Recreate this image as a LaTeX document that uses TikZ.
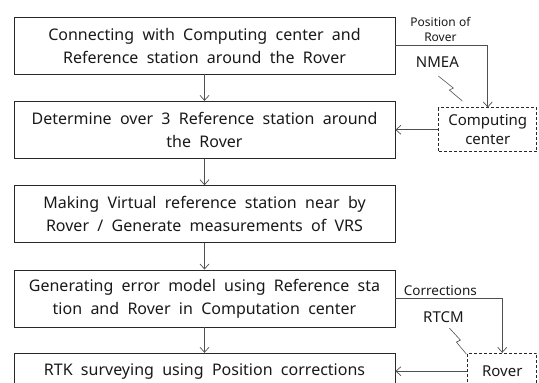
\documentclass[tikz,border=0pt]{standalone}
\usepackage{fontspec}
\setmainfont{Noto Sans}
\usepackage{tikz}
\usetikzlibrary{positioning,arrows.meta}
\definecolor{boxline}{RGB}{40,40,40}
\definecolor{arline}{RGB}{80,80,80}
\definecolor{txt}{RGB}{25,25,25}
\newcommand{\widesp}{\spaceskip=0.52em\relax}

\begin{document}
\begin{tikzpicture}[
  font=\fontsize{16}{23}\selectfont\widesp, text=txt,
  stepbox/.style={rectangle, draw=boxline, line width=0.8pt, minimum width=381pt,
                  minimum height=57pt, align=center, inner sep=2pt},
  net/.style={rectangle, draw=boxline, line width=0.7pt, dash pattern=on 3pt off 2pt,
              minimum height=44pt, align=center, inner sep=3pt, font=\fontsize{15}{19}\selectfont},
  ar/.style={-{Straight Barb[length=5pt,width=9pt]}, line width=0.7pt, draw=arline},
  bolt/.style={line width=0.6pt, draw=arline},
  lbl/.style={inner sep=0pt, align=center, font=\fontsize{12}{15}\selectfont},
  node distance=26.5pt and 43pt
]
\useasboundingbox (0,0) rectangle (539pt,-383pt);
\clip (0,0) rectangle (539pt,-383pt);

% Main flow (top to bottom)
\node[stepbox] (conn) at (204.5pt,-45.5pt) {Connecting with Computing center and\\Reference station around the Rover};
\node[stepbox, below=of conn] (det)  {Determine over 3 Reference station around\\the Rover};
\node[stepbox, below=of det]  (vrs)  {Making Virtual reference station near by\\Rover / Generate measurements of VRS};
\node[stepbox, below=of vrs]  (err)  {Generating error model using Reference sta\\tion and Rover in Computation center};
\node[stepbox, below=25.5pt of err, minimum height=36pt] (rtk) {RTK surveying using Position corrections};

% Dashed side boxes
\node[net, right=of det, minimum width=98pt] (comp) {Computing\\center};
\node[net, right=72pt of rtk, minimum width=69pt, minimum height=36pt] (rover) {Rover};

% Vertical arrows
\draw[ar] (conn) -- (det);
\draw[ar] (det)  -- (vrs);
\draw[ar] (vrs)  -- (err);
\draw[ar] (err)  -- (rtk);

% Side loops
\draw[ar] (conn.east) -| (comp.north);
\draw[ar] (comp.west) -- (det.east);
\draw[ar] (err.east) -| (rover.north);
\draw[ar] (rover.west) -- (rtk.east);

% Labels on the side links
\node[lbl, anchor=south] (posr) at ([xshift=45pt,yshift=4pt]conn.east) {Position of\\Rover};
\node[lbl, font=\fontsize{15}{17}\selectfont] (nmea) at ([xshift=42pt,yshift=-17pt]conn.east) {NMEA};
\node[lbl, anchor=south, font=\fontsize{13.5}{15}\selectfont] (corr) at ([xshift=45pt,yshift=3pt]err.east) {Corrections};
\node[lbl, font=\fontsize{15}{17}\selectfont] (rtcm) at ([xshift=48pt,yshift=-19pt]err.east) {RTCM};

% Radio links
\draw[bolt] ([xshift=1pt,yshift=-8pt]nmea.south) -- ++(15pt,-12pt) -- ++(-4pt,-2pt) -- ++(13pt,-11pt);
\draw[bolt] ([xshift=6pt,yshift=-5pt]rtcm.south) -- ++(11pt,-12pt) -- ++(-4pt,-2pt) -- ++(10pt,-12pt);
\end{tikzpicture}
\end{document}
